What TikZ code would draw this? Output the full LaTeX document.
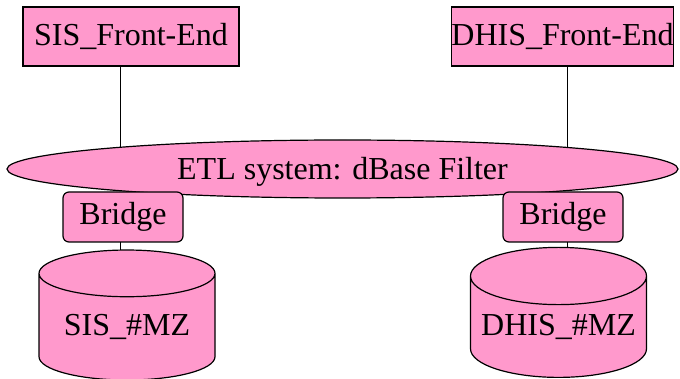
\documentclass[tikz,border=0pt]{standalone}
\usepackage{fontspec}
\setmainfont{Liberation Serif}
\usetikzlibrary{shapes.geometric,backgrounds}
\definecolor{pinkfill}{RGB}{255,153,204}
\tikzset{
    frontend/.style={draw, fill=pinkfill, rectangle, inner sep=0pt, minimum width=108pt, minimum height=29.5pt},
    bridgebox/.style={draw, fill=pinkfill, rectangle, rounded corners=3pt, inner sep=0pt, minimum width=60pt, minimum height=25pt},
    database/.style={draw, fill=pinkfill, cylinder, shape border rotate=90, aspect=0.37, inner sep=0pt, minimum width=88pt, minimum height=65pt},
}
\begin{document}
\begin{tikzpicture}[x=0.5pt, y=-0.5pt, line width=0.6pt, font=\fontsize{16}{19}\selectfont]
    \useasboundingbox (0,0) rectangle (680,379);
    % Front-ends
    \node[frontend] (sis_fe) at (131, 36.5) {SIS\_Front-End};
    \node[frontend] (dhis_fe) at (562.5, 36.5) {DHIS\_Front-End};

    % ETL
    \node[draw, fill=pinkfill, ellipse, inner sep=0pt, minimum width=335.5pt, minimum height=29pt] (etl) at (342.5, 169) {};
    \node (etl_text) at (342.5, 172) {ETL system: dBase Filter};

    % Bridges
    \node[bridgebox] (sis_br) at (123, 217) {Bridge};
    \node[bridgebox] (dhis_br) at (563, 217) {Bridge};

    % Databases
    \node[database] (sis_db) at (127, 327) {SIS\_\#MZ};
    \node[database] (dhis_db) at (558.5, 327) {DHIS\_\#MZ};

    \coordinate (sis_x) at (120, 0);
    \coordinate (dhis_x) at (567, 0);

    % Verbindungen
    \begin{scope}[on background layer]
        \draw (sis_fe.south -| sis_x) -- (etl.center -| sis_x);
        \draw (dhis_fe.south -| dhis_x) -- (etl.center -| dhis_x);
        \draw (sis_br.center -| sis_x) -- (sis_db.center -| sis_x);
        \draw (dhis_br.center -| dhis_x) -- (dhis_db.center -| dhis_x);
    \end{scope}
\end{tikzpicture}
\end{document}
